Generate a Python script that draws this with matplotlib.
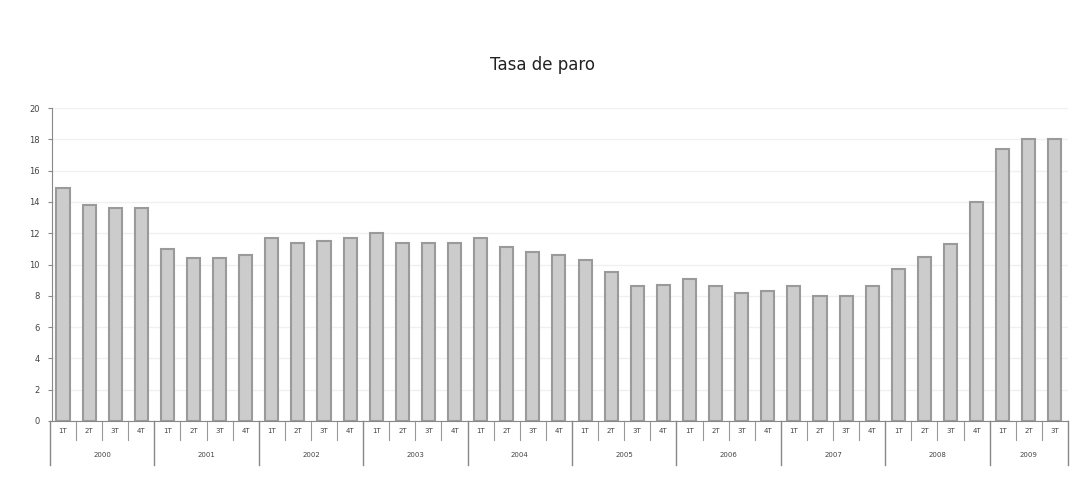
import numpy as np
import matplotlib
matplotlib.use("Agg")
import matplotlib.pyplot as plt

# Tasa de paro (EPA), trimestral 2000-2009
years = ["2000", "2001", "2002", "2003", "2004", "2005", "2006", "2007", "2008", "2009"]
quarters = ["1T", "2T", "3T", "4T"]
rate = [14.9, 13.8, 13.6, 13.6,
        11.0, 10.4, 10.4, 10.6,
        11.7, 11.4, 11.5, 11.7,
        12.0, 11.4, 11.4, 11.4,
        11.7, 11.1, 10.8, 10.6,
        10.3, 9.5, 8.6, 8.7,
        9.1, 8.6, 8.2, 8.3,
        8.6, 8.0, 8.0, 8.6,
        9.7, 10.5, 11.3, 14.0,
        17.4, 18.0, 18.0]
yticks = list(range(0, 21, 2))

TXT = "#444444"
n = len(rate)
x = np.arange(n)

fig = plt.figure(figsize=(10.86, 4.95), dpi=100, facecolor="white")
ax = fig.add_axes([0.0479, 0.1495, 0.9355, 0.6323])

ax.bar(x, rate, width=0.5, color="#cccccc", edgecolor="#9a9a9a", linewidth=1.5, zorder=2)

ax.set_xlim(-0.42, n - 0.5)
ax.set_ylim(0, 20)
ax.set_yticks(yticks)
ax.set_yticklabels([str(t) for t in yticks], fontsize=6, color=TXT)
ax.set_xticks([])
ax.grid(axis="y", color="#f0f0f0", linewidth=1.0, zorder=0)
for s in ["top", "right"]:
    ax.spines[s].set_visible(False)
ax.spines["left"].set_color("#888888")
ax.spines["bottom"].set_color("#888888")
ax.tick_params(axis="y", length=3, color="#888888", pad=6)

# category axis: quarters and years below the baseline
tr = ax.get_xaxis_transform()
for i in range(n):
    ax.text(i, -0.032, quarters[i % 4], transform=tr, ha="center", va="center",
            fontsize=5, color=TXT, clip_on=False)
    if i > 0 and i % 4 != 0:
        ax.plot([i - 0.5, i - 0.5], [0, -0.061], transform=tr, color="#999999",
                lw=0.8, clip_on=False)
for k in range(len(years)):
    start = k * 4 - 0.5
    end = min(k * 4 + 3.5, n - 0.5)
    ax.text((start + end) / 2, -0.109, years[k], transform=tr, ha="center",
            va="center", fontsize=5, color=TXT, clip_on=False)
    ax.plot([start, start], [0, -0.14], transform=tr, color="#888888",
            lw=1.0, clip_on=False)
ax.plot([n - 0.5, n - 0.5], [0, -0.14], transform=tr, color="#888888",
        lw=1.0, clip_on=False)

fig.text(0.5, 0.868, "Tasa de paro", ha="center", va="center", fontsize=12,
         color="#222222", fontweight="medium")

fig.savefig("out.png", dpi=100, facecolor="white")
